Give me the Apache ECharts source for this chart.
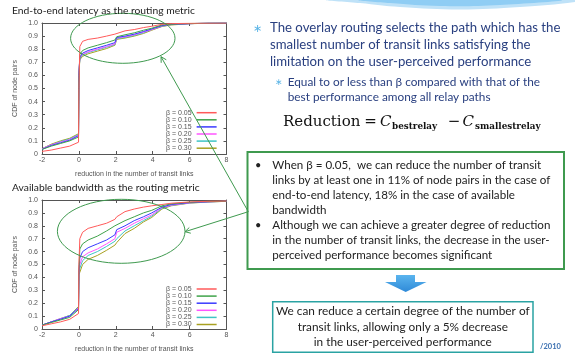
<!DOCTYPE html>
<html>
<head>
<meta charset="utf-8">
<script src="https://cdn.jsdelivr.net/npm/echarts@6/dist/echarts.min.js"></script>
<style>
html,body{margin:0;padding:0;background:#fff;}
#main{width:575px;height:354px;}
</style>
</head>
<body>
<div id="main"></div>
<script>
// legend names and gnuplot-ish colours
var betaNames = ['β = 0.05', 'β = 0.10', 'β = 0.15', 'β = 0.20', 'β = 0.25', 'β = 0.30'];
var lineColors = ['#ff5a5a', '#3fa34a', '#3a3aff', '#ff55ff', '#3fc4c4', '#a8a020'];

// reduction in the number of transit links (shared x points)
var xReduction = [-2, -1.5, -1, -0.5, -0.02, 0, 0.05, 0.2, 0.5, 1, 1.5, 1.95, 2.05, 2.5, 3, 3.5, 3.95, 4.05, 4.5, 5, 6, 7, 8];

// CDF, end-to-end latency
var latency005 = [0.02, 0.03, 0.045, 0.06, 0.09, 0.5, 0.82, 0.86, 0.875, 0.885, 0.9, 0.915, 0.93, 0.94, 0.95, 0.965, 0.975, 0.985, 0.99, 0.995, 0.998, 0.999, 1];
var latency010 = [0.035, 0.06, 0.08, 0.1, 0.13, 0.55, 0.76, 0.79, 0.81, 0.83, 0.85, 0.87, 0.895, 0.91, 0.925, 0.945, 0.96, 0.975, 0.985, 0.99, 0.996, 0.999, 1];
var latency015 = [0.035, 0.065, 0.085, 0.105, 0.14, 0.6, 0.74, 0.77, 0.79, 0.81, 0.83, 0.85, 0.89, 0.9, 0.915, 0.935, 0.955, 0.97, 0.98, 0.99, 0.995, 0.999, 1];
var latency020 = [0.04, 0.07, 0.09, 0.11, 0.145, 0.62, 0.735, 0.76, 0.78, 0.8, 0.82, 0.84, 0.885, 0.895, 0.91, 0.93, 0.95, 0.965, 0.978, 0.988, 0.995, 0.999, 1];
var latency025 = [0.04, 0.07, 0.095, 0.115, 0.15, 0.62, 0.73, 0.755, 0.775, 0.795, 0.815, 0.835, 0.88, 0.89, 0.905, 0.925, 0.95, 0.962, 0.975, 0.987, 0.995, 0.999, 1];
var latency030 = [0.04, 0.075, 0.1, 0.12, 0.155, 0.6, 0.72, 0.745, 0.765, 0.785, 0.805, 0.83, 0.875, 0.885, 0.9, 0.92, 0.945, 0.96, 0.973, 0.985, 0.994, 0.999, 1];

// CDF, available bandwidth
var bandwidth005 = [0.025, 0.04, 0.055, 0.075, 0.12, 0.5, 0.7, 0.75, 0.78, 0.8, 0.82, 0.85, 0.87, 0.91, 0.93, 0.945, 0.955, 0.96, 0.965, 0.975, 0.985, 0.99, 0.992];
var bandwidth010 = [0.03, 0.05, 0.07, 0.09, 0.15, 0.45, 0.62, 0.66, 0.69, 0.72, 0.76, 0.8, 0.81, 0.84, 0.87, 0.9, 0.92, 0.925, 0.955, 0.97, 0.983, 0.988, 0.99];
var bandwidth015 = [0.03, 0.055, 0.075, 0.1, 0.16, 0.45, 0.55, 0.6, 0.63, 0.66, 0.69, 0.73, 0.77, 0.8, 0.84, 0.87, 0.9, 0.905, 0.945, 0.965, 0.98, 0.987, 0.99];
var bandwidth020 = [0.03, 0.055, 0.08, 0.1, 0.165, 0.44, 0.5, 0.56, 0.59, 0.62, 0.66, 0.7, 0.75, 0.78, 0.82, 0.855, 0.885, 0.89, 0.94, 0.96, 0.978, 0.986, 0.99];
var bandwidth025 = [0.03, 0.055, 0.08, 0.105, 0.17, 0.43, 0.47, 0.53, 0.57, 0.6, 0.64, 0.68, 0.7, 0.76, 0.8, 0.84, 0.875, 0.88, 0.935, 0.958, 0.977, 0.985, 0.99];
var bandwidth030 = [0.03, 0.055, 0.08, 0.105, 0.175, 0.42, 0.44, 0.5, 0.54, 0.57, 0.61, 0.65, 0.67, 0.74, 0.78, 0.83, 0.865, 0.87, 0.93, 0.955, 0.976, 0.984, 0.99];

var latencyCurves = [latency005, latency010, latency015, latency020, latency025, latency030];
var bandwidthCurves = [bandwidth005, bandwidth010, bandwidth015, bandwidth020, bandwidth025, bandwidth030];

var chartFont = 'Liberation Sans';
var slideFont = 'Lato';
var mathFont = 'DejaVu Serif';
var green = '#3f9a4f';

function pairs(ys) {
	return xReduction.map(function (x, i) { return [x, ys[i]]; });
}

function buildSeries(curves, gridIdx) {
	return curves.map(function (ys, i) {
		return {
			name: betaNames[i],
			type: 'line',
			xAxisIndex: gridIdx,
			yAxisIndex: gridIdx,
			data: pairs(ys),
			showSymbol: false,
			symbol: 'none',
			color: lineColors[i],
			lineStyle: { width: 1, color: lineColors[i] },
			z: 3 + (curves.length - i),
			silent: true
		};
	});
}

function xAxisFor(gridIdx, top) {
	return {
		type: 'value', gridIndex: gridIdx, min: -2, max: 8, interval: 2,
		position: top ? 'top' : 'bottom',
		name: top ? '' : 'reduction in the number of transit links',
		nameLocation: 'middle', nameGap: 17,
		nameTextStyle: { fontSize: 7, color: '#555', fontFamily: chartFont },
		axisLine: { show: true, onZero: false, lineStyle: { color: '#555', width: 1 } },
		axisTick: { show: true, inside: true, length: 3, lineStyle: { color: '#555' } },
		axisLabel: { show: !top, fontSize: 7, color: '#555', margin: 3, fontFamily: chartFont },
		splitLine: { show: false }
	};
}

function yAxisFor(gridIdx, right) {
	return {
		type: 'value', gridIndex: gridIdx, min: 0, max: 1, interval: 0.1,
		position: right ? 'right' : 'left',
		name: right ? '' : 'CDF of node pairs',
		nameLocation: 'middle', nameGap: 23,
		nameTextStyle: { fontSize: 7, color: '#555', fontFamily: chartFont },
		axisLine: { show: true, onZero: false, lineStyle: { color: '#555', width: 1 } },
		axisTick: { show: true, inside: true, length: 3, lineStyle: { color: '#555' } },
		axisLabel: {
			show: !right, fontSize: 7, color: '#555', margin: 4, fontFamily: chartFont,
			formatter: function (v) { return v === 0 ? '0' : v.toFixed(1); }
		},
		splitLine: { show: false }
	};
}

function legendFor(top) {
	return {
		data: betaNames, orient: 'vertical', left: 166, top: top,
		align: 'right', icon: 'rect', itemWidth: 20, itemHeight: 1.5, itemGap: 0.1,
		padding: 0, selectedMode: false,
		textStyle: { fontSize: 7, color: '#555', lineHeight: 7, fontFamily: chartFont, padding: [0, 0, 0, 0] }
	};
}

function txt(s, x, y, size, color, extra) {
	var style = {
		text: s, x: x, y: y, fontSize: size, fontFamily: slideFont,
		fill: color, textAlign: 'left', textVerticalAlign: 'middle'
	};
	for (var k in extra) style[k] = extra[k];
	return { type: 'text', z: 20, silent: true, style: style };
}

var graphics = [
	// decorative wave at top right
	{ type: 'polygon', z: 1, silent: true, shape: { points: [[328, 0], [575, 0], [575, 2], [520, 7], [460, 9.5], [400, 7], [360, 3]], smooth: 0.4 },
	  style: { fill: '#bfe2f8' } },
	{ type: 'polygon', z: 1, silent: true, shape: { points: [[360, 0], [560, 0], [500, 5], [440, 6], [390, 3]], smooth: 0.4 },
	  style: { fill: '#8fcdf4' } },

	txt('End-to-end latency as the routing metric', 12, 10.7, 10.3, '#222'),
	txt('Available bandwidth as the routing metric', 12, 187.3, 10.3, '#222'),

	// first bullet block
	txt('∗', 253, 28, 11, '#5ab4e6'),
	txt('The overlay routing selects the path which has the', 270, 27.3, 13.2, '#2a4080'),
	txt('smallest number of transit links satisfying the', 270, 44.3, 13.2, '#2a4080'),
	txt('limitation on the user-perceived performance', 270, 62, 13.2, '#2a4080'),
	txt('∗', 275, 82.5, 9, '#5ab4e6'),
	txt('Equal to or less than β compared with that of the', 287.7, 81.7, 11.8, '#2a4080'),
	txt('best performance among all relay paths', 287.7, 97.3, 11.8, '#2a4080'),

	// formula
	txt('Reduction', 283, 121.7, 15, '#111', { fontFamily: mathFont }),
	txt('=', 370.5, 121.7, 15, '#111', { fontFamily: mathFont, textAlign: 'center' }),
	txt('C', 380, 121.7, 15, '#111', { fontFamily: mathFont, fontStyle: 'italic' }),
	txt('bestrelay', 392, 126.5, 8.8, '#111', { fontFamily: mathFont, fontWeight: 'bold' }),
	txt('−', 454, 121.7, 15, '#111', { fontFamily: mathFont, textAlign: 'center' }),
	txt('C', 462.5, 121.7, 15, '#111', { fontFamily: mathFont, fontStyle: 'italic' }),
	txt('smallestrelay', 475, 126.5, 8.8, '#111', { fontFamily: mathFont, fontWeight: 'bold' }),

	// green box
	{ type: 'rect', z: 10, silent: true, shape: { x: 247.5, y: 152, width: 316.5, height: 117 },
	  style: { fill: '#fff', stroke: green, lineWidth: 2 } },
	txt('•', 255, 165.7, 11, '#222'),
	txt('When β = 0.05,  we can reduce the number of transit', 272.3, 165.7, 11.6, '#222'),
	txt('links by at least one in 11% of node pairs in the case of', 272.3, 180.6, 11.6, '#222'),
	txt('end-to-end latency, 18% in the case of available', 272.3, 195.5, 11.6, '#222'),
	txt('bandwidth', 272.3, 210.4, 11.6, '#222'),
	txt('•', 255, 225.3, 11, '#222'),
	txt('Although we can achieve a greater degree of reduction', 272.3, 225.3, 11.6, '#222'),
	txt('in the number of transit links, the decrease in the user-', 272.3, 240.2, 11.6, '#222'),
	txt('perceived performance becomes significant', 272.3, 255.1, 11.6, '#222'),

	// down arrow
	{ type: 'polygon', z: 10, silent: true,
	  shape: { points: [[396, 275], [415, 275], [415, 282], [426.5, 282], [405.7, 292], [385, 282], [396, 282]] },
	  style: { fill: new echarts.graphic.LinearGradient(0, 0, 0, 1, [{ offset: 0, color: '#5ab4ee' }, { offset: 1, color: '#2f8ad8' }]) } },

	// teal box
	{ type: 'rect', z: 10, silent: true, shape: { x: 272.7, y: 301.7, width: 260.3, height: 50.6 },
	  style: { fill: '#fff', stroke: '#2aa3a3', lineWidth: 1.5 } },
	txt('We can reduce a certain degree of the number of', 402.8, 311.2, 11.8, '#222', { textAlign: 'center' }),
	txt('transit links, allowing only a 5% decrease', 402.8, 327.3, 11.8, '#222', { textAlign: 'center' }),
	txt('in the user-perceived performance', 402.8, 342.3, 11.8, '#222', { textAlign: 'center' }),
	txt('/2010', 540, 347, 7.5, '#3a6fb0', { fontWeight: 'bold' }),

	// ellipses and pointers
	{ type: 'ellipse', z: 15, silent: true, shape: { cx: 122.8, cy: 38.3, rx: 52.2, ry: 25 },
	  style: { fill: 'none', stroke: green, lineWidth: 1 } },
	{ type: 'ellipse', z: 15, silent: true, shape: { cx: 121.2, cy: 231.3, rx: 63.8, ry: 32 },
	  style: { fill: 'none', stroke: green, lineWidth: 1 } },
	{ type: 'polyline', z: 15, silent: true, shape: { points: [[161, 56.7], [248.3, 211.7], [185, 231.7]] },
	  style: { fill: 'none', stroke: green, lineWidth: 1 } },
	{ type: 'polyline', z: 15, silent: true, shape: { points: [[166.3, 59.8], [161, 56.7], [161.2, 62.8]] },
	  style: { fill: 'none', stroke: green, lineWidth: 1 } },
	{ type: 'polyline', z: 15, silent: true, shape: { points: [[190.8, 233.2], [185, 231.7], [189.3, 227.5]] },
	  style: { fill: 'none', stroke: green, lineWidth: 1 } }
];

var chart = echarts.init(document.getElementById('main'), null, { renderer: 'canvas' });
var option = {
	backgroundColor: '#fff',
	animation: false,
	textStyle: { fontFamily: chartFont },
	grid: [
		{ left: 42, top: 23, width: 184.5, height: 131 },
		{ left: 42, top: 200, width: 184.5, height: 131 }
	],
	xAxis: [xAxisFor(0, false), xAxisFor(1, false), xAxisFor(0, true), xAxisFor(1, true)],
	yAxis: [yAxisFor(0, false), yAxisFor(1, false), yAxisFor(0, true), yAxisFor(1, true)],
	legend: [legendFor(109.2), legendFor(285.5)],
	series: buildSeries(latencyCurves, 0).concat(buildSeries(bandwidthCurves, 1)),
	graphic: graphics
};
chart.setOption(option);
window.addEventListener('resize', function () { chart.resize(); });
</script>
</body>
</html>
